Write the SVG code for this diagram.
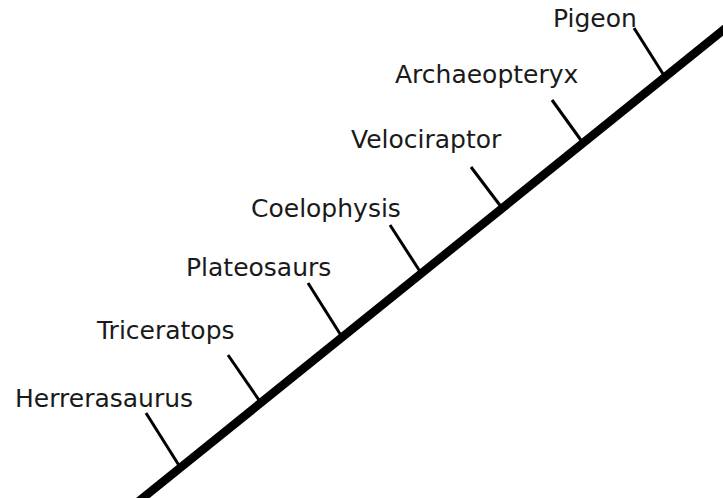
<svg xmlns="http://www.w3.org/2000/svg" width="723" height="498" viewBox="0 0 723 498">
<style>
.lbl{font-family:"DejaVu Sans",Verdana,sans-serif;font-size:25px;fill:#1a1a1a}
.trunk{stroke:#000;stroke-width:8.5;fill:none}
.br{stroke:#000;stroke-width:3;fill:none}
</style>
<rect width="723" height="498" fill="#fff"/>
<g id="connectors">
<line class="trunk" x1="139" y1="501" x2="727" y2="27"/>
<line class="br" x1="146" y1="413" x2="180" y2="467"/>
<line class="br" x1="228" y1="355" x2="261" y2="403"/>
<line class="br" x1="308" y1="283" x2="342" y2="337"/>
<line class="br" x1="390" y1="225" x2="421" y2="273"/>
<line class="br" x1="471" y1="167" x2="502" y2="208"/>
<line class="br" x1="552" y1="100" x2="583" y2="143"/>
<line class="br" x1="634" y1="28" x2="665" y2="77"/>
</g>
<g id="herrerasaurus"><text class="lbl" x="15" y="407">Herrerasaurus</text></g>
<g id="triceratops"><text class="lbl" x="97" y="339">Triceratops</text></g>
<g id="plateosaurs"><text class="lbl" x="186" y="276">Plateosaurs</text></g>
<g id="coelophysis"><text class="lbl" x="251" y="217">Coelophysis</text></g>
<g id="velociraptor"><text class="lbl" x="351" y="148">Velociraptor</text></g>
<g id="archaeopteryx"><text class="lbl" x="395" y="83">Archaeopteryx</text></g>
<g id="pigeon"><text class="lbl" x="553" y="27">Pigeon</text></g>
</svg>
